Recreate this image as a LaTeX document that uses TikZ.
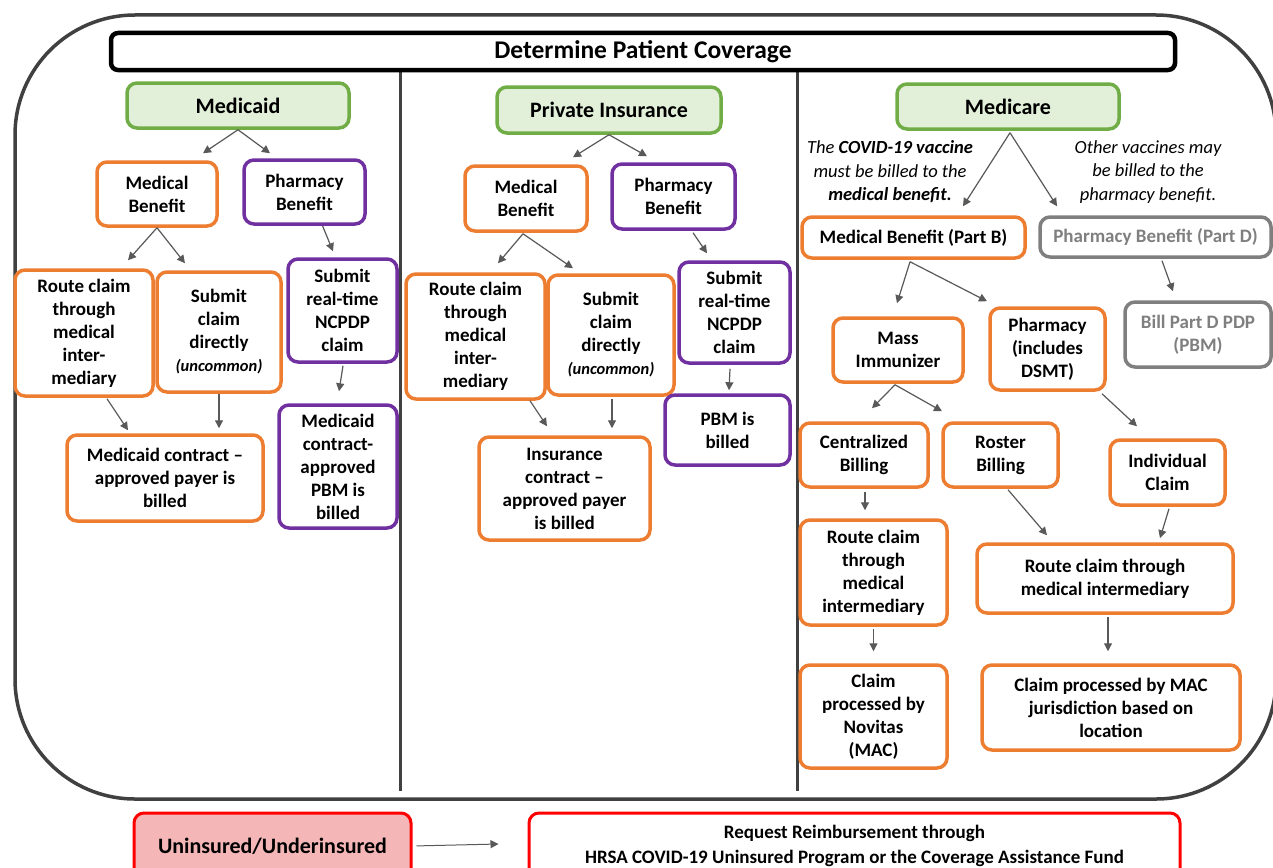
\documentclass[tikz,border=0pt]{standalone}
\usepackage{fontspec}
\setmainfont{Carlito}
\usetikzlibrary{arrows.meta,calc}
\definecolor{orC}{HTML}{ED7D31}
\definecolor{puC}{HTML}{7030A0}
\definecolor{grC}{HTML}{70AD47}
\definecolor{grF}{HTML}{E2F0D9}
\definecolor{gyC}{HTML}{7F7F7F}
\definecolor{frC}{HTML}{404040}
\definecolor{arC}{HTML}{595959}
\definecolor{rdC}{HTML}{FF0000}
\definecolor{pkF}{HTML}{F4B6B6}
\newcommand\myBody{\fontsize{19}{23}\selectfont\bfseries}
\newcommand\myHead{\fontsize{22}{26}\selectfont\bfseries}
\newcommand\myTitle{\fontsize{25.5}{30}\selectfont\bfseries}
\newcommand\myUnc{\fontsize{16.5}{20}\selectfont\itshape}
\newcommand\myNote{\fontsize{18.5}{23.5}\selectfont\itshape}
\begin{document}
\begin{tikzpicture}[x=1pt,y=-1pt,
  box/.style={draw, line width=3.5pt, rounded corners=10pt, fill=white, align=center, font=\myBody, inner sep=0pt, text=black},
  sz/.style 2 args={minimum width=#1, minimum height=#2},
  ob/.style={box, draw=orC},
  pb/.style={box, draw=puC},
  gb/.style={box, draw=gyC, text=gyC},
  hb/.style={box, draw=grC, fill=grF, font=\myHead},
  rb/.style={box, draw=rdC, line width=3pt},
  note/.style={align=center, font=\myNote, inner sep=0pt},
  arr/.style={draw=arC, line width=1.2pt, -{Triangle[width=8pt,length=8pt]}},
  frame/.style={draw=frC, line width=3.5pt},
]
\useasboundingbox (0,0) rectangle (1273,867);
\clip (0,0) rectangle (1273,867);
\fill[white] (0,0) rectangle (1273,867);

% outer frame and dividers
\draw[frame, rounded corners=120pt] (15,15) rectangle (1276,799);
\draw[frame, line width=3pt] (400,70) -- (400,791);
\draw[frame, line width=3pt] (797,70) -- (797,791);

% title
\node[box, draw=black, line width=4.5pt, rounded corners=7pt, font=\myTitle, sz={1064}{37}] (title) at (643,51.5) {Determine Patient Coverage};

% ---------------- Medicaid ----------------
\node[hb, sz={222}{45}] (medicaid) at (238,105.5) {Medicaid};
\node[ob, sz={120}{64}] (mb1) at (157,194) {Medical\\Benefit};
\node[pb, sz={121}{64}] (pb1) at (304.5,192) {Pharmacy\\Benefit};
\node[ob, sz={138}{126}] (rc1) at (84,333) {Route claim\\through\\medical\\inter-\\mediary};
\node[ob, sz={124}{120}] (sc1) at (219,332) {Submit\\claim\\directly\\{\myUnc (uncommon)}};
\node[pb, sz={109}{103}] (nc1) at (342.5,310.5) {Submit\\real-time\\NCPDP\\claim};
\node[ob, sz={196}{86}] (mc1) at (165,478) {Medicaid contract –\\approved payer is\\billed};
\node[pb, sz={118}{123}] (pbm1) at (338,466.5) {Medicaid\\contract-\\approved\\PBM is\\billed};

\draw[arr] (medicaid.south) -- ($(mb1.north)+(46,-7)$);
\draw[arr] (medicaid.south) -- ($(pb1.north)+(-34.5,-5)$);
\draw[arr] (mb1.south) -- ($(rc1.north)+(44,-8)$);
\draw[arr] (mb1.south) -- ($(sc1.north)+(-34,-7)$);
\draw[arr] ($(pb1.south)+(18,0)$) -- ($(nc1.north)+(-9.5,-6)$);
\draw[arr] ($(rc1.south)+(23,1)$) -- ($(mc1.north)+(-37,-3)$);
\draw[arr] (sc1.south) -- ($(mc1.north)+(54,-5)$);
\draw[arr] ($(nc1.south)+(0.5,2)$) -- ($(pbm1.north)+(1,-12)$);

% ---------------- Private Insurance ----------------
\node[hb, sz={224}{46}] (pi) at (609,110) {Private Insurance};
\node[ob, sz={122}{65}] (mb2) at (526,198.5) {Medical\\Benefit};
\node[pb, sz={123}{65}] (pb2) at (673.5,196.5) {Pharmacy\\Benefit};
\node[ob, sz={139}{125}] (rc2) at (475.5,336.5) {Route claim\\through\\medical\\inter-\\mediary};
\node[ob, sz={126}{120}] (sc2) at (611,335) {Submit\\claim\\directly\\{\myUnc (uncommon)}};
\node[pb, sz={111}{101}] (nc2) at (734.5,312.5) {Submit\\real-time\\NCPDP\\claim};
\node[ob, sz={171}{103}] (ic2) at (564.5,488.5) {Insurance\\contract –\\approved payer\\is billed};
\node[pb, sz={125}{70}] (pbm2) at (727.5,430) {PBM is\\billed};

\draw[arr] (pi.south) -- ($(mb2.north)+(47,-7)$);
\draw[arr] (pi.south) -- ($(pb2.north)+(-26.5,-6)$);
\draw[arr] ($(mb2.south)+(-3,1)$) -- ($(rc2.north)+(22.5,-9)$);
\draw[arr] ($(mb2.south)+(-3,1)$) -- ($(sc2.north)+(-38,-5)$);
\draw[arr] ($(pb2.south)+(19.5,2)$) -- ($(nc2.north)+(-27.5,-7)$);
\draw[arr] ($(rc2.south)+(54.5,0)$) -- ($(ic2.north)+(-17.5,-9)$);
\draw[arr] ($(sc2.south)+(1,2)$) -- ($(ic2.north)+(47.5,-7)$);
\draw[arr] ($(nc2.south)+(-4.5,4)$) -- ($(pbm2.north)+(1.5,-3)$);

% ---------------- Medicare ----------------
\node[hb, sz={222}{45}] (mcare) at (1008,106.5) {Medicare};
\node[note] (noteL) at (890,172) {The \textbf{COVID-19 vaccine}\\must be billed to the\\\textbf{medical benefit.}};
\node[note] (noteR) at (1148,172) {Other vaccines may\\be billed to the\\pharmacy benefit.};
\node[ob, sz={223}{41}] (mbB) at (913.5,237.5) {Medical Benefit (Part B)};
\node[gb, sz={231}{40}] (pbD) at (1155.5,237) {Pharmacy Benefit (Part D)};
\node[gb, sz={146}{65}] (bpd) at (1198,334.5) {Bill Part D PDP\\(PBM)};
\node[ob, sz={130}{64}] (mass) at (898,350) {Mass\\Immunizer};
\node[ob, sz={115}{82}] (phar) at (1047.5,349) {Pharmacy\\(includes\\DSMT)};
\node[ob, sz={128}{64}] (cent) at (864,455) {Centralized\\Billing};
\node[ob, sz={115}{64}] (rost) at (1000.5,455) {Roster\\Billing};
\node[ob, sz={115}{65}] (indiv) at (1167.5,472.5) {Individual\\Claim};
\node[ob, sz={147}{105}] (rcL) at (873.5,572.5) {Route claim\\through\\medical\\intermediary};
\node[ob, sz={256}{69}] (rcR) at (1105,578.5) {Route claim through\\medical intermediary};
\node[ob, sz={147}{103}] (nov) at (873.5,716.5) {Claim\\processed by\\Novitas\\(MAC)};
\node[ob, sz={258}{85}] (macj) at (1111,707.5) {Claim processed by MAC\\jurisdiction based on\\location};

\draw[arr] ($(mcare.south)+(2,2)$) -- ($(mbB.north)+(49.5,-9)$);
\draw[arr] ($(mcare.south)+(2,2)$) -- ($(pbD.north)+(-98.5,-9)$);
\draw[arr] ($(mbB.south)+(-3.5,2)$) -- ($(mass.north)+(-1,-13)$);
\draw[arr] ($(mbB.south)+(-3.5,2)$) -- ($(phar.north)+(-60.5,-5)$);
\draw[arr] ($(pbD.south)+(6.5,2)$) -- ($(bpd.north)+(-25,-9)$);
\draw[arr] ($(mass.south)+(-3,1)$) -- ($(cent.north)+(8,-13)$);
\draw[arr] ($(mass.south)+(-3,1)$) -- ($(rost.north)+(-58.5,-10)$);
\draw[arr] ($(phar.south)+(54.5,2)$) -- ($(indiv.north)+(-30.5,-12)$);
\draw[arr] ($(cent.south)+(1,3)$) -- ($(rcL.north)+(-8.5,-8)$);
\draw[arr] ($(rost.south)+(7.5,1)$) -- ($(rcR.north)+(-58,-7)$);
\draw[arr] ($(indiv.south)+(1.5,2)$) -- ($(rcR.north)+(55,-4)$);
\draw[arr] ($(rcL.south)+(0,2)$) -- ($(nov.north)+(0,-12)$);
\draw[arr] ($(rcR.south)+(3,2)$) -- ($(macj.north)+(-3,-12)$);

% ---------------- Bottom ----------------
\node[rb, fill=pkF, font=\myHead, sz={277}{66}] (unins) at (272.5,846) {Uninsured/Underinsured};
\node[rb, font=\myBody, sz={651}{66}] (req) at (854.5,846) {Request Reimbursement through\\[2pt]HRSA COVID-19 Uninsured Program or the Coverage Assistance Fund};
\draw[arr, line width=1pt, shorten <=4pt] (unins.east) -- ($(req.west)+(-29,-2)$);
\end{tikzpicture}
\end{document}
